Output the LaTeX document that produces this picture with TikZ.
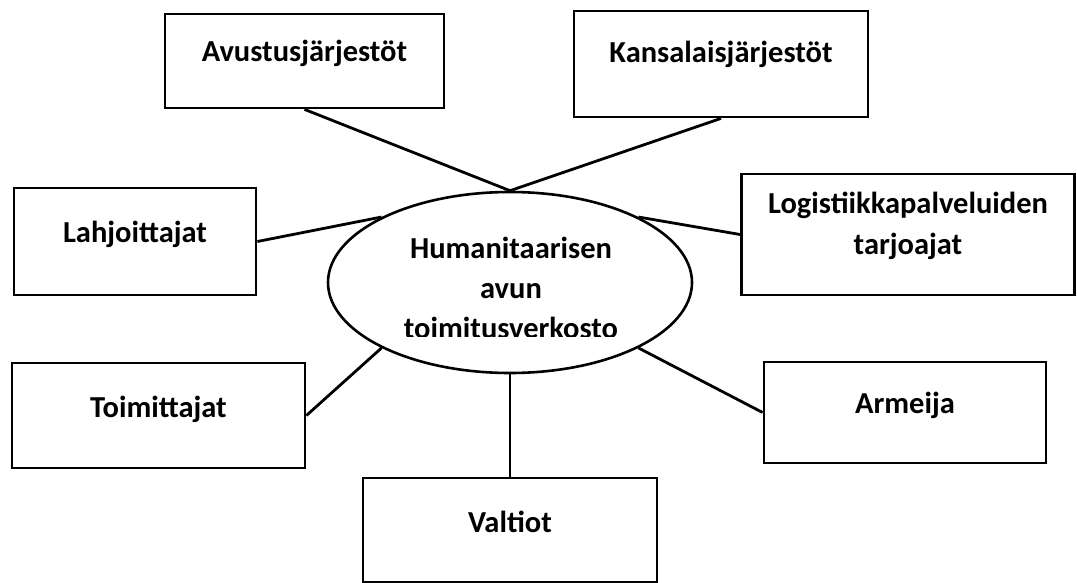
\documentclass[tikz,border=0pt]{standalone}
\usepackage{fontspec}
\setmainfont{Carlito}
\usetikzlibrary{shapes.geometric}
\tikzset{
  actor/.style={draw=black, line width=2.8pt, rectangle, inner sep=0pt, fill=white},
  hub/.style={draw=black, line width=2.6pt, ellipse, inner sep=0pt,
    minimum width=364pt, minimum height=181pt},
  lbl/.style={anchor=base, inner sep=0pt, font=\bfseries\fontsize{30.5}{40}\selectfont},
  link/.style={line width=2.8pt}
}
\begin{document}
\begin{tikzpicture}[x=1pt, y=-1pt]
  \useasboundingbox (0,0) rectangle (1077,583);
  % central ellipse
  \node[hub] (hub) at (510,282.5) {};
  % surrounding boxes
  \node[actor, minimum width=279pt, minimum height=94pt]  (avu) at (304.5,61) {};
  \node[actor, minimum width=294pt, minimum height=106pt] (kan) at (721,64) {};
  \node[actor, minimum width=242pt, minimum height=107pt] (lah) at (135,241.5) {};
  \node[actor, minimum width=333pt, minimum height=121pt] (log) at (908,234.5) {};
  \node[actor, minimum width=293pt, minimum height=105pt] (tom) at (158.5,415.5) {};
  \node[actor, minimum width=282pt, minimum height=101pt] (arm) at (905,412.5) {};
  \node[actor, minimum width=294pt, minimum height=104pt] (val) at (510,530) {};
  % box labels (the base anchor of a two-line label is its last line)
  \node[lbl] (avu-t) at (304.5,62) {Avustusjärjestöt};
  \node[lbl] (kan-t) at (721,63) {Kansalaisjärjestöt};
  \node[lbl] (lah-t) at (135,242) {Lahjoittajat};
  \node[lbl, align=center] (log-t) at (908,254) {Logistiikkapalveluiden\\tarjoajat};
  \node[lbl] (tom-t) at (158.5,417) {Toimittajat};
  \node[lbl] (arm-t) at (905,413) {Armeija};
  \node[lbl] (val-t) at (510,532) {Valtiot};
  % ellipse label, cut off just above the baseline of its last line
  \begin{scope}
    \clip (300,200) rectangle (720,336);
    \node[lbl, align=center] (hub-t) at (511,338) {Humanitaarisen\\avun\\toimitusverkosto};
  \end{scope}
  % connectors
  \draw[link] (avu.south) -- (hub.north);
  \draw[link] (kan.south) -- (hub.north);
  \draw[link] (lah.east) -- (hub.153);
  \draw[link] (log.west) -- (hub.27);
  \draw[link] (tom.east) -- (hub.207);
  \draw[link] (arm.west) -- (hub.333);
  \draw[link] (val.north) -- (hub.south);
\end{tikzpicture}
\end{document}
